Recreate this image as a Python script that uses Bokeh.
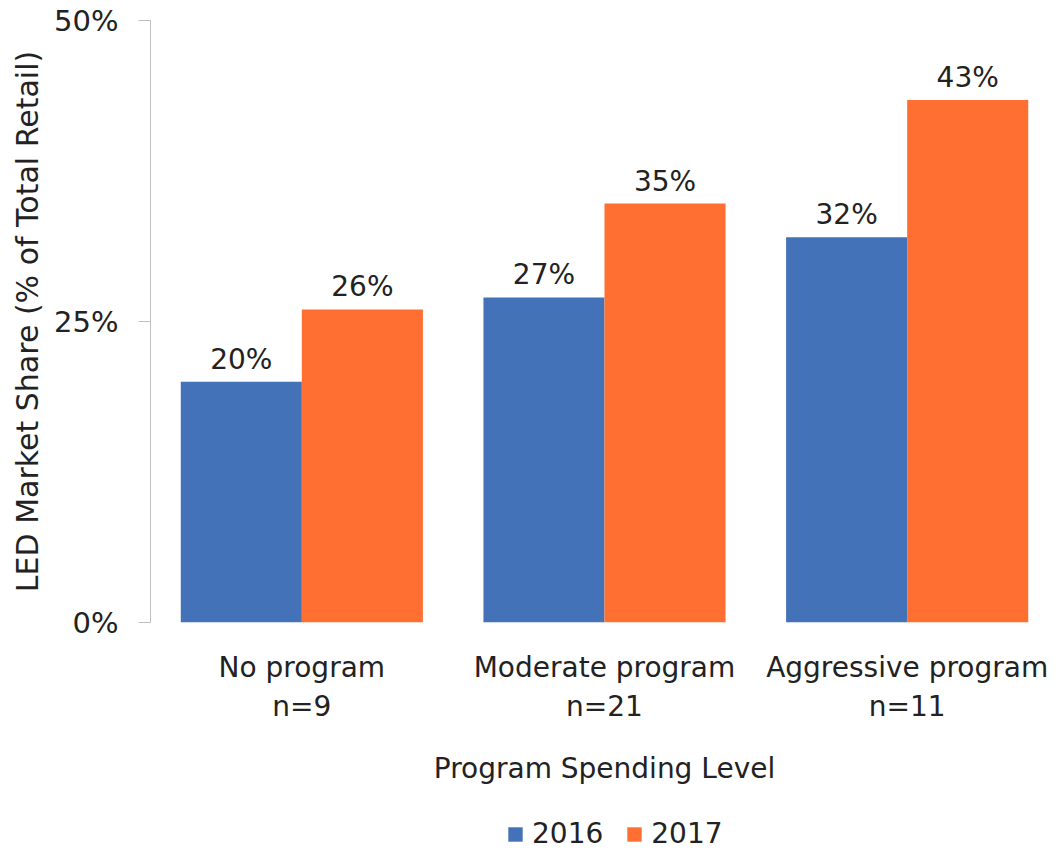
from bokeh.plotting import figure
from bokeh.layouts import column
from bokeh.models import ColumnDataSource, FactorRange, Range1d, FixedTicker, Legend, LegendItem, CustomJSTickFormatter
from bokeh.transform import dodge
from bokeh.core.properties import value
from bokeh.embed import file_html
from bokeh.resources import INLINE

categories = ["No program\nn=9", "Moderate program\nn=21", "Aggressive program\nn=11"]
share_2016 = [20.0, 27.0, 32.0]
share_2017 = [26.0, 34.8, 43.4]
y_ticks = [0, 25, 50]
series_names = ["2016", "2017"]

FONT = "DejaVu Sans"
FS = "28px"
TXT = "#222222"
BLUE = "#4472B8"
ORANGE = "#FF6F31"

src = ColumnDataSource(dict(
    cat=categories,
    y16=share_2016,
    y17=share_2017,
    l16=[f"{v:.0f}%" for v in share_2016],
    l17=[f"{v:.0f}%" for v in share_2017],
))

p = figure(frame_width=908, frame_height=602, x_range=FactorRange(*categories, range_padding=0),
           y_range=Range1d(0, 50), output_backend="svg", toolbar_location=None,
           min_border_left=150, min_border_top=20, min_border_right=0, min_border_bottom=178)
p.outline_line_color = None
p.grid.grid_line_color = None

p.vbar(x=dodge("cat", -0.2, range=p.x_range), top="y16", width=0.4, source=src,
       fill_color=BLUE, line_color=None)
p.vbar(x=dodge("cat", 0.2, range=p.x_range), top="y17", width=0.4, source=src,
       fill_color=ORANGE, line_color=None)

for col, lab, dx in (("y16", "l16", -0.2), ("y17", "l17", 0.2)):
    p.text(x=dodge("cat", dx, range=p.x_range), y=col, text=lab, source=src,
           text_align="center", text_baseline="bottom", y_offset=-6,
           text_font=value(FONT), text_font_size=FS, text_color=TXT)

p.yaxis.ticker = FixedTicker(ticks=y_ticks)
p.yaxis.formatter = CustomJSTickFormatter(code="return tick + '%';")
p.yaxis.axis_line_color = "#BFBFBF"
p.yaxis.major_tick_line_color = "#BFBFBF"
p.yaxis.major_tick_out = 12
p.yaxis.major_tick_in = 0
p.yaxis.minor_tick_line_color = None
p.yaxis.major_label_standoff = 20
p.yaxis.major_label_text_font = FONT
p.yaxis.major_label_text_font_size = "29px"
p.yaxis.major_label_text_color = TXT
p.yaxis.axis_label = "LED Market Share (% of Total Retail)"
p.yaxis.axis_label_text_font = FONT
p.yaxis.axis_label_text_font_size = "30px"
p.yaxis.axis_label_text_font_style = "normal"
p.yaxis.axis_label_text_color = TXT
p.yaxis.axis_label_standoff = 6

p.xaxis.axis_line_color = None
p.xaxis.major_tick_line_color = None
p.xaxis.minor_tick_line_color = None
p.xaxis.major_label_text_font = FONT
p.xaxis.major_label_text_font_size = FS
p.xaxis.major_label_text_color = TXT
p.xaxis.major_label_standoff = 22
p.xaxis.axis_label = "Program Spending Level"
p.xaxis.axis_label_text_font = FONT
p.xaxis.axis_label_text_font_size = FS
p.xaxis.axis_label_text_font_style = "normal"
p.xaxis.axis_label_text_color = TXT
p.xaxis.axis_label_standoff = 26

# legend strip (its bars lie outside its view; only the legend shows)
lg = figure(width=1058, height=50, output_backend="svg", toolbar_location=None,
            x_axis_type=None, y_axis_type=None, min_border=0,
            x_range=FactorRange(*categories), y_range=Range1d(100, 101))
lg.outline_line_color = None
lg.grid.grid_line_color = None
k16 = lg.vbar(x="cat", top="y16", width=0.4, source=src, fill_color=BLUE, line_color=None)
k17 = lg.vbar(x="cat", top="y17", width=0.4, source=src, fill_color=ORANGE, line_color=None)
legend = Legend(items=[LegendItem(label=series_names[0], renderers=[k16]),
                       LegendItem(label=series_names[1], renderers=[k17])],
                orientation="horizontal", location=(356, 0),
                label_text_font=FONT, label_text_font_size=FS, label_text_color=TXT,
                glyph_width=18, glyph_height=18, spacing=22, label_standoff=8,
                border_line_color=None, background_fill_alpha=0, margin=0, padding=0)
lg.add_layout(legend, "center")

layout = column(p, lg, spacing=0)
open("out.html", "w").write(file_html(layout, INLINE))
